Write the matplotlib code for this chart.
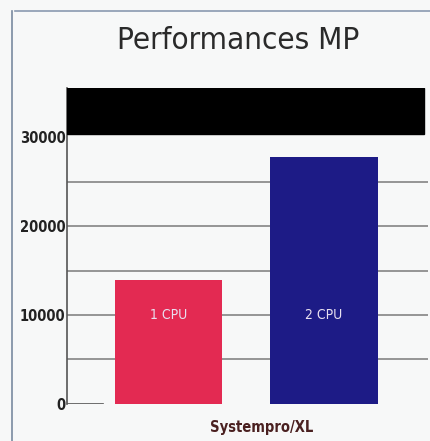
import matplotlib
matplotlib.use("Agg")
import matplotlib.pyplot as plt

# MP performance, one vs two CPUs on the Systempro/XL
cpus = ["1 CPU", "2 CPU"]
scores = [13900, 27800]
bar_colors = ["#e32a52", "#1d1b86"]
yticks = [0, 10000, 20000, 30000]

fig = plt.figure(figsize=(4.31, 4.41), dpi=100)
fig.patch.set_facecolor("#f7f8f8")
ax = fig.add_axes([0.155, 0.084, 0.838, 0.716])
ax.set_facecolor("#f7f8f8")

# grid every 5000, drawn under the bars
for y in range(5000, 30000, 5000):
    ax.axhline(y, color="#7a7a7a", lw=1.1, zorder=1)

bars = ax.bar(range(len(cpus)), scores, width=0.69, color=bar_colors, zorder=2)
for b, name in zip(bars, cpus):
    ax.text(b.get_x() + b.get_width() / 2, 10000, name, ha="center", va="center",
            color="#e8e0f0", fontsize=10, fontstretch="condensed", zorder=3)

# dark band across the top of the plot
ax.axhspan(30300, 35500, xmin=0, xmax=0.99, color="black", zorder=3)

ax.set_xlim(-0.653, 1.669)
ax.set_ylim(0, 35500)
ax.set_yticks(yticks)
ax.set_yticklabels([str(v) for v in yticks], fontsize=10.5, fontweight="bold",
                   fontstretch="condensed", color="#222222")
ax.tick_params(axis="y", length=0, pad=1)
ax.set_xticks([])
for s in ["top", "right", "bottom"]:
    ax.spines[s].set_visible(False)
ax.spines["left"].set_color("#555555")
ax.spines["left"].set_linewidth(1.2)
ax.axhline(0, xmax=0.1, color="#555555", lw=1.2)

fig.text(0.552, 0.908, "Performances MP", ha="center", va="center", fontsize=22.5,
         fontstretch="condensed", color="#2a2a2a")
fig.text(0.608, 0.03, "Systempro/XL", ha="center", va="center", fontsize=10.5,
         fontweight="bold", fontstretch="condensed", color="#4a2020")

# page frame lines
fig.add_artist(plt.Line2D([0.028, 0.028], [0.0, 0.975], color="#7a8aa0", lw=1.2))
fig.add_artist(plt.Line2D([0.035, 1.0], [0.975, 0.975], color="#8a9ab0", lw=1.2))

fig.savefig("out.png", dpi=100, facecolor=fig.get_facecolor())
